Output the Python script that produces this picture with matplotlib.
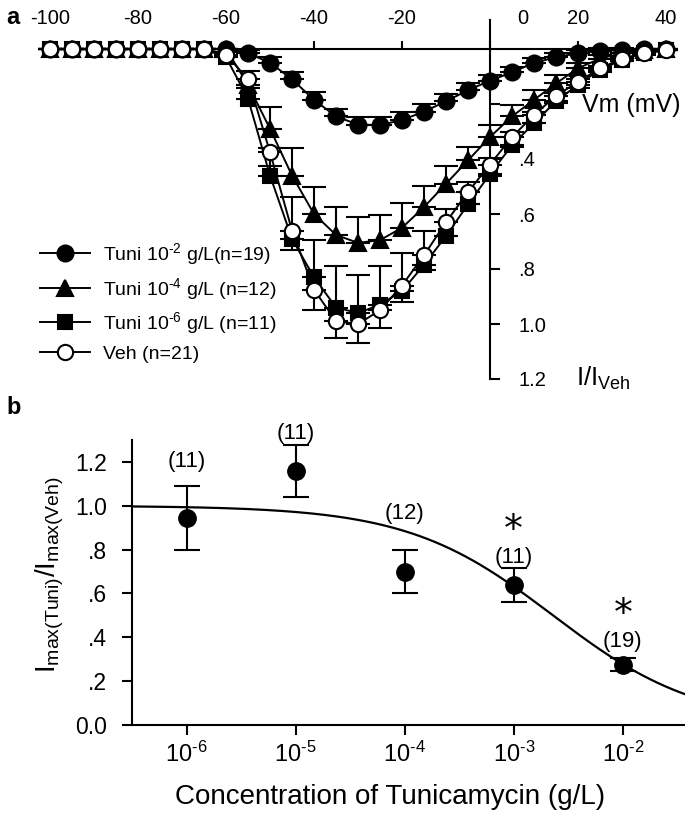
import numpy as np
import matplotlib
matplotlib.use("Agg")
import matplotlib.pyplot as plt
from matplotlib.lines import Line2D

FAM = 'Liberation Sans'
plt.rcParams['font.family'] = [FAM, 'DejaVu Sans']
plt.rcParams['mathtext.fontset'] = 'custom'
plt.rcParams['mathtext.rm'] = FAM
plt.rcParams['mathtext.it'] = FAM + ':italic'
plt.rcParams['mathtext.bf'] = FAM + ':bold'
plt.rcParams['axes.unicode_minus'] = False

# ---------------- Panel a data ----------------
vm = list(range(-100, 45, 5))  # mV
zeros9 = [0.0] * 9  # -100 .. -60
tuni2 = zeros9 + [0.015, 0.05, 0.11, 0.185, 0.245, 0.275, 0.277, 0.258, 0.228, 0.19,
                  0.15, 0.115, 0.085, 0.05, 0.03, 0.015, 0.007, 0.003, 0.0, 0.0]
tuni2_err = zeros9 + [0.01, 0.02, 0.025, 0.028, 0.028, 0.028, 0.028, 0.028, 0.028, 0.028,
                      0.025, 0.022, 0.02, 0.018, 0.015, 0.012, 0.01, 0.005, 0.0, 0.0]
tuni4 = zeros9 + [0.13, 0.29, 0.46, 0.60, 0.676, 0.705, 0.695, 0.65, 0.575, 0.49,
                  0.405, 0.32, 0.245, 0.185, 0.125, 0.07, 0.035, 0.015, 0.005, 0.0]
tuni4_err = zeros9 + [0.05, 0.08, 0.10, 0.10, 0.10, 0.095, 0.09, 0.09, 0.075, 0.065,
                      0.05, 0.045, 0.04, 0.035, 0.03, 0.02, 0.015, 0.01, 0.005, 0.0]
tuni6 = [0.0] * 8 + [0.03, 0.18, 0.46, 0.69, 0.83, 0.94, 0.96, 0.93, 0.88, 0.785, 0.68,
                     0.565, 0.455, 0.35, 0.27, 0.19, 0.13, 0.075, 0.04, 0.015, 0.005]
tuni6_err = [0.0] * 8 + [0.02, 0.05, 0.10, 0.15, 0.135, 0.15, 0.14, 0.14, 0.14, 0.125, 0.10,
                         0.08, 0.06, 0.05, 0.04, 0.03, 0.02, 0.015, 0.01, 0.005, 0.0]
veh = [0.0] * 8 + [0.02, 0.11, 0.375, 0.66, 0.875, 0.99, 1.0, 0.95, 0.86, 0.75, 0.63,
                   0.52, 0.42, 0.32, 0.24, 0.17, 0.12, 0.07, 0.035, 0.015, 0.005]
veh_err = [0.0] * 8 + [0.01, 0.03, 0.05, 0.07, 0.075, 0.06, 0.07, 0.065, 0.06, 0.055, 0.05,
                       0.045, 0.04, 0.035, 0.03, 0.025, 0.02, 0.015, 0.01, 0.005, 0.0]
legend_labels = [r'Tuni 10$^{\text{-2}}$ g/L(n=19)', r'Tuni 10$^{\text{-4}}$ g/L (n=12)',
                 r'Tuni 10$^{\text{-6}}$ g/L (n=11)', 'Veh (n=21)']

xtick_vals = [-100, -80, -60, -40, -20, 0, 20, 40]
ytick_vals_a = [0.2, 0.4, 0.6, 0.8, 1.0, 1.2]
ytick_labels_a = ['', '.4', '.6', '.8', '1.0', '1.2']

# ---------------- Panel b data ----------------
conc = [1e-6, 1e-5, 1e-4, 1e-3, 1e-2]
imax = [0.945, 1.16, 0.70, 0.637, 0.275]
imax_err = [0.145, 0.118, 0.096, 0.077, 0.03]
n_labels = ['(11)', '(11)', '(12)', '(11)', '(19)']
signif = [False, False, False, True, True]
hill_ic50 = 10 ** -2.64
hill_n = 0.65
ytick_vals_b = [0.0, 0.2, 0.4, 0.6, 0.8, 1.0, 1.2]
ytick_labels_b = ['0.0', '.2', '.4', '.6', '.8', '1.0', '1.2']

W, H = 685, 816
fig = plt.figure(figsize=(W / 100, H / 100), dpi=100)
PT = 72 / 100.0  # points per pixel

def fr(x0, y0, x1, y1):
    return [x0 / W, 1 - y1 / H, (x1 - x0) / W, (y1 - y0) / H]

# ================= Panel a =================
axa = fig.add_axes(fr(0, 0, 685, 400))
px_per_mv = 4.4
x_m100 = 50
y_zero = 49
px_per_unit = 275
axa.set_xlim(-100 - x_m100 / px_per_mv, -100 + (685 - x_m100) / px_per_mv)
axa.set_ylim((400 - y_zero) / px_per_unit, -y_zero / px_per_unit)
axa.patch.set_alpha(0)

for s in ['left', 'bottom']:
    axa.spines[s].set_visible(False)
axa.spines['top'].set_position(('data', 0))
axa.spines['right'].set_position(('data', 0))
axa.spines['top'].set_bounds(-100, 40)
axa.spines['right'].set_bounds(-0.105, 1.2)
for s in ['top', 'right']:
    axa.spines[s].set_linewidth(1.5)
    axa.spines[s].set_zorder(2)
axa.xaxis.set_ticks_position('top')
axa.yaxis.set_ticks_position('right')
axa.set_xticks(xtick_vals)
axa.set_xticklabels([('' if v == 0 else str(v)) for v in xtick_vals])
TFA = 14.5
axa.tick_params(axis='x', direction='out', length=6, width=1.5, pad=9, labelsize=TFA)
axa.set_yticks(ytick_vals_a)
axa.set_yticklabels(ytick_labels_a)
axa.tick_params(axis='y', direction='out', length=7, width=1.5, pad=14, labelsize=TFA)

common = dict(color='black', lw=1.4, capsize=8.5, capthick=1.5, elinewidth=1.5,
              markeredgewidth=1.5, markeredgecolor='black')

vm_arr = np.array(vm)
nz = [0] * len(vm)
axa.errorbar(vm_arr, tuni6, yerr=[tuni6_err, nz], fmt='-s', ms=9.5,
             markerfacecolor='black', zorder=4, **common)
axa.errorbar(vm_arr, tuni4, yerr=[tuni4_err, nz], fmt='-^', ms=11,
             markerfacecolor='black', zorder=5, **common)
axa.errorbar(vm_arr, tuni2, yerr=[tuni2_err, nz], fmt='-o', ms=11.5,
             markerfacecolor='black', zorder=6, **common)
axa.errorbar(vm_arr, veh, yerr=[nz, veh_err], fmt='-o', ms=11,
             markerfacecolor='white', zorder=7, **common)

def lh(marker, fc, ms):
    return Line2D([], [], color='black', lw=1.4, marker=marker, markerfacecolor=fc,
                  markeredgecolor='black', markeredgewidth=1.5, ms=ms)
leg_fs = 14
axa.legend([lh('o', 'black', 11.5), lh('^', 'black', 11), lh('s', 'black', 9.5),
            lh('o', 'white', 11)], legend_labels,
           loc='upper left', bbox_to_anchor=(40 / W, 1 - 241 / H),
           bbox_transform=fig.transFigure, frameon=False, fontsize=leg_fs,
           handlelength=50 / (leg_fs / PT), handletextpad=13 / (leg_fs / PT),
           labelspacing=0.45, borderpad=0, borderaxespad=0)

fig.text(582 / W, 1 - 105 / H, 'Vm (mV)', fontsize=18, ha='left', va='center')
fig.text(576 / W, 1 - 378 / H, r'I/I$_{\mathrm{Veh}}$', fontsize=18.5, ha='left', va='center')
fig.text(6 / W, 1 - 18 / H, 'a', fontsize=17, fontweight='bold', ha='left', va='center')

# ================= Panel b =================
axb = fig.add_axes(fr(132, 440, 685, 725))
lo, hi = -6.5, -1.43
axb.set_xscale('log')
axb.set_xlim(10 ** lo, 10 ** hi)
axb.set_ylim(0, 1.3)
axb.spines['top'].set_visible(False)
axb.spines['right'].set_visible(False)
for s in ['left', 'bottom']:
    axb.spines[s].set_linewidth(1.5)
axb.set_xticks(conc)
axb.set_xticklabels([r'10$^{\text{%d}}$' % int(round(np.log10(c))) for c in conc])
axb.xaxis.set_minor_locator(matplotlib.ticker.NullLocator())
axb.tick_params(axis='x', direction='out', length=7, width=1.5, pad=6, labelsize=17)
axb.set_yticks(ytick_vals_b)
axb.set_yticklabels(ytick_labels_b)
axb.tick_params(axis='y', direction='out', length=7, width=1.5, pad=10, labelsize=16.5)

xc = np.logspace(lo, hi, 300)
axb.plot(xc, 1.0 / (1.0 + (xc / hill_ic50) ** hill_n), color='black', lw=1.6, zorder=2)
axb.errorbar(conc, imax, yerr=imax_err, fmt='o', color='black', ms=12.5, capsize=9.5,
             capthick=1.5, elinewidth=1.5, zorder=3, clip_on=False)

label_offsets = [0.11, 0.05, 0.17, 0.052, 0.078]
for c, v, e, t, off, sg in zip(conc, imax, imax_err, n_labels, label_offsets, signif):
    axb.text(c, v + e + off, t, ha='center', va='center', fontsize=16)
    if sg:
        axb.text(c, v + e + off + 0.12, '*', ha='center', va='center', fontsize=27,
                 family='DejaVu Sans')

axb.set_xlabel('Concentration of Tunicamycin (g/L)', fontsize=20)
axb.xaxis.set_label_coords((390 - 132) / 553, -(784 - 725) / 285)
axb.set_ylabel(r'I$_{\mathrm{max(Tuni)}}$/I$_{\mathrm{max(Veh)}}$', fontsize=20)
axb.yaxis.set_label_coords((66 - 132) / 553, (725 - 575) / 285)
fig.text(6 / W, 1 - 408 / H, 'b', fontsize=17, fontweight='bold', ha='left', va='center')

# ---- fine-tune tick-label padding to land at measured pixel positions ----
fig.canvas.draw()
r = fig.canvas.get_renderer()
bb = axb.get_xticklabels()[0].get_window_extent(r)
shift = 742 - (H - bb.y1)
axb.tick_params(axis='x', pad=6 + shift * PT)
bb = axb.get_yticklabels()[-1].get_window_extent(r)
shift = bb.x1 - 107
axb.tick_params(axis='y', pad=10 + shift * PT)
bb = axa.get_xticklabels()[0].get_window_extent(r)
shift = (H - bb.y0) - 28
axa.tick_params(axis='x', pad=9 + shift * PT)
bb = axa.get_yticklabels()[1].get_window_extent(r)
shift = 518 - bb.x0
axa.tick_params(axis='y', pad=14 + shift * PT)
fig.canvas.draw()
bb = axa.get_xticklabels()[0].get_window_extent(r)
yc = (bb.y0 + bb.y1) / 2
x0_disp = axa.transData.transform((7.5, 0))[0]
fig.text(x0_disp / W, yc / H, '0', ha='center', va='center', fontsize=TFA)

fig.savefig('out.png', dpi=100)
